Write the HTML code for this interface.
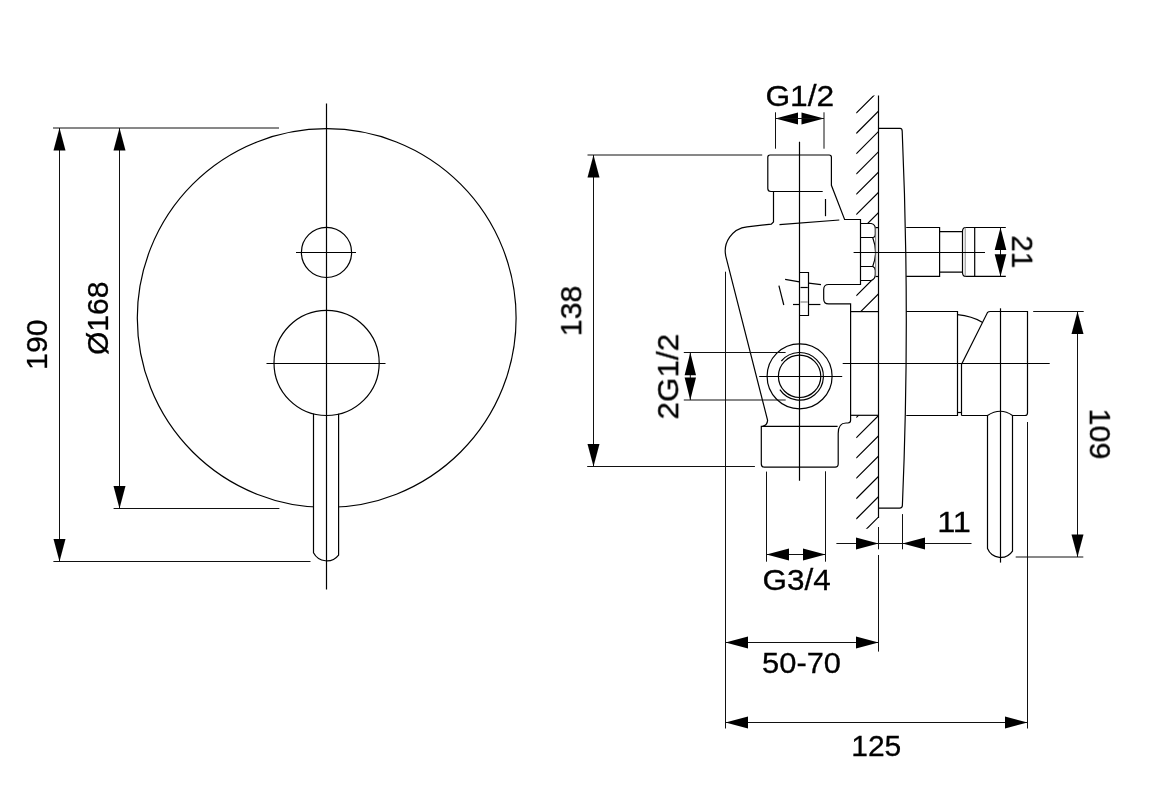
<!DOCTYPE html>
<html><head><meta charset="utf-8"><style>
html,body{margin:0;padding:0;background:#fff;}
svg{display:block;}
text{font-family:"Liberation Sans",sans-serif;font-size:29.8px;fill:#000;stroke:#000;stroke-width:0.3px;}
.t{opacity:0.999;}
</style></head><body>
<svg width="1152" height="794" viewBox="0 0 1152 794">
<rect width="1152" height="794" fill="#fff"/>
<circle cx="326.7" cy="318.1" r="189.4" stroke="#000" stroke-width="1.2" fill="none"/>
<path d="M313.5,413.5 L313.5,552.8 A15,15 0 0 0 338.6,555.05 L338.6,413.5 Z" fill="#fff" stroke="none"/>
<circle cx="326.5" cy="252.4" r="25.1" stroke="#000" stroke-width="1.2" fill="none"/>
<line x1="296" y1="252.5" x2="356" y2="252.5" stroke="#000" stroke-width="1.2" fill="none"/>
<circle cx="326.6" cy="362.9" r="52.6" stroke="#000" stroke-width="1.2" fill="none"/>
<line x1="266.5" y1="363.5" x2="385.5" y2="363.5" stroke="#000" stroke-width="1.2" fill="none"/>
<path d="M313.5,413.8 L313.5,552.8 A15,15 0 0 0 338.6,555.05 L338.6,413.8" stroke="#000" stroke-width="1.2" fill="none"/>
<line x1="326.5" y1="103.6" x2="326.5" y2="589.6" stroke="#000" stroke-width="1.2" fill="none"/>
<line x1="53" y1="128" x2="279" y2="128" stroke="#111" stroke-width="1" fill="none"/>
<line x1="53.4" y1="561.5" x2="310.5" y2="561.5" stroke="#111" stroke-width="1" fill="none"/>
<line x1="113.6" y1="508.5" x2="279.4" y2="508.5" stroke="#111" stroke-width="1" fill="none"/>
<line x1="59.5" y1="128" x2="59.5" y2="561.5" stroke="#111" stroke-width="1" fill="none"/>
<line x1="119.5" y1="128" x2="119.5" y2="508.5" stroke="#111" stroke-width="1" fill="none"/>
<polygon points="59.5,128 53.5,150.5 65.5,150.5" fill="#000" stroke="none"/>
<polygon points="59.5,561.5 53.5,539 65.5,539" fill="#000" stroke="none"/>
<polygon points="119.5,128 113.5,150.5 125.5,150.5" fill="#000" stroke="none"/>
<polygon points="119.5,508.5 113.5,486 125.5,486" fill="#000" stroke="none"/>
<clipPath id="hc"><path d="M856.2,95.6 L878.5,95.6 L878.5,528.8 L856.2,528.8 Z M856.2,219.5 L856.2,284.5 L860.5,284.5 L860.5,280.5 L878.5,280.5 L878.5,223.5 L860.5,223.5 L860.5,219.5 Z M856.2,311.6 L856.2,415.3 L878.5,415.3 L878.5,311.6 Z" clip-rule="evenodd"/></clipPath>
<path d="M856.2,113.2 L916.2,53.2 M856.2,133.49 L916.2,73.49 M856.2,153.78 L916.2,93.78 M856.2,174.07 L916.2,114.07 M856.2,194.36 L916.2,134.36 M856.2,214.65 L916.2,154.65 M856.2,234.94 L916.2,174.94 M856.2,255.23 L916.2,195.23 M856.2,275.52 L916.2,215.52 M856.2,295.81 L916.2,235.81 M856.2,316.1 L916.2,256.1 M856.2,336.39 L916.2,276.39 M856.2,356.68 L916.2,296.68 M856.2,376.97 L916.2,316.97 M856.2,397.26 L916.2,337.26 M856.2,417.55 L916.2,357.55 M856.2,437.84 L916.2,377.84 M856.2,458.13 L916.2,398.13 M856.2,478.42 L916.2,418.42 M856.2,498.71 L916.2,438.71 M856.2,519 L916.2,459 M856.2,539.29 L916.2,479.29 M856.2,559.58 L916.2,499.58" stroke="#000" stroke-width="1.2" fill="none" clip-path="url(#hc)"/>
<line x1="878.5" y1="95.6" x2="878.5" y2="518.1" stroke="#000" stroke-width="1.2" fill="none"/>
<path d="M878.5,128.3 L900.2,128.3 Q902.2,128.3 902.2,131.3 Q910.3,318.3 902.4,505.3 Q902.4,508.1 899.6,508.1 L878.5,508.1" stroke="#000" stroke-width="1.2" fill="none"/>
<path d="M822.7,191.5 L770.8,191.5 Q767.8,191.5 767.8,188.5 L767.8,157.2 Q767.8,155 770,155 L829.2,155 Q831.4,155 831.4,157.2 L831.4,185.3 L844.6,219.5 L860.5,219.5 L860.5,284.5 L828.6,284.5 Q823.7,284.5 823.7,289.5 L823.7,298.9 Q823.7,303.8 828.6,303.8 L850.6,303.8 L850.6,420.3 Q850.6,423 847.9,423 L846,423" stroke="#000" stroke-width="1.2" fill="none"/>
<path d="M846,423 Q838.2,423 838.2,433.5 L838.2,464 Q838.2,467.1 835.1,467.1 L764.3,467.1 Q761.3,467.1 761.3,464 L761.3,426.4 L837.6,426.4" stroke="#000" stroke-width="1.2" fill="none"/>
<path d="M773.5,191.5 L773.5,221.9 L771.25,224.2 L747.07,226.78 A24.4,24.4 0 0 0 726.02,257.06 L767.6,420.4 Q767.3,425.4 762.5,426.4" stroke="#000" stroke-width="1.2" fill="none"/>
<line x1="779.5" y1="224.6" x2="839.3" y2="220" stroke="#000" stroke-width="1.2" fill="none"/>
<line x1="825.5" y1="199" x2="825.5" y2="216.2" stroke="#000" stroke-width="1.2" fill="none"/>
<path d="M860.5,223.5 L871.2,223.5 Q875.3,224.5 875.3,228.6 L875.3,233.7 Q875.3,237.5 872.7,237.5 L860.5,237.5" stroke="#000" stroke-width="1.2" fill="none"/>
<path d="M872.7,237.5 Q878.4,252.3 872.7,266.5 L860.5,266.5" stroke="#000" stroke-width="1.2" fill="none"/>
<path d="M872.7,266.5 Q875.3,267.5 875.3,270.5 L875.3,274.5 Q875.3,279 871.2,280.5 L860.5,280.5" stroke="#000" stroke-width="1.2" fill="none"/>
<line x1="875.7" y1="227.6" x2="875.7" y2="276.5" stroke="#777" stroke-width="1"/>
<line x1="875.7" y1="227.6" x2="878.5" y2="227.6" stroke="#000" stroke-width="1.2" fill="none"/>
<line x1="875.7" y1="276.5" x2="878.5" y2="276.5" stroke="#000" stroke-width="1.2" fill="none"/>
<line x1="850.6" y1="311.6" x2="878.5" y2="311.6" stroke="#000" stroke-width="1.2" fill="none"/>
<line x1="850.6" y1="415.3" x2="878.5" y2="415.3" stroke="#000" stroke-width="1.2" fill="none"/>
<path d="M799.5,272.5 L808.5,272.5 L808.5,315.5 L799.5,315.5" stroke="#000" stroke-width="1.2" fill="none"/>
<line x1="800.5" y1="287.5" x2="807.8" y2="287.5" stroke="#000" stroke-width="1.2" fill="none"/>
<line x1="800.5" y1="302" x2="807.8" y2="302" stroke="#888" stroke-width="1.2"/>
<line x1="785.1" y1="279.3" x2="799.5" y2="281.8" stroke="#000" stroke-width="1.2" fill="none"/>
<line x1="808.6" y1="283.1" x2="821" y2="284.6" stroke="#000" stroke-width="1.2" fill="none"/>
<line x1="793" y1="304.5" x2="799.5" y2="304.5" stroke="#000" stroke-width="1.2" fill="none"/>
<line x1="808.6" y1="304.5" x2="820.4" y2="304.5" stroke="#000" stroke-width="1.2" fill="none"/>
<line x1="778.9" y1="285.7" x2="783.8" y2="305" stroke="#000" stroke-width="1.2" fill="none"/>
<line x1="799.5" y1="141.8" x2="799.5" y2="480.7" stroke="#000" stroke-width="1.2" fill="none"/>
<circle cx="799.6" cy="376.3" r="32.5" stroke="#000" stroke-width="1.2" fill="none"/>
<circle cx="799.6" cy="376.3" r="21.2" stroke="#000" stroke-width="1.2" fill="none"/>
<path d="M781.37,361 A23.8,23.8 0 1 1 779.87,389.61" stroke="#000" stroke-width="1.2" fill="none"/>
<line x1="759.2" y1="376.5" x2="842.2" y2="376.5" stroke="#000" stroke-width="1.2" fill="none"/>
<path d="M906.2,227.5 L939.6,227.5 L939.6,276.4 L906.2,276.4" stroke="#000" stroke-width="1.2" fill="none"/>
<path d="M939.6,231.7 L962.5,231.7 M939.6,272.2 L962.5,272.2" stroke="#000" stroke-width="1.2" fill="none"/>
<path d="M962.5,231.7 Q962.5,227.5 965.5,227.5 L1005.8,227.5 M962.5,272.2 Q962.5,276.4 965.5,276.4 L1005.8,276.4 M962.5,231.7 L962.5,272.2" stroke="#000" stroke-width="1.2" fill="none"/>
<line x1="965.2" y1="227.5" x2="965.2" y2="276.4" stroke="#888" stroke-width="1"/>
<line x1="974.7" y1="227.5" x2="974.7" y2="276.4" stroke="#000" stroke-width="1.2" fill="none"/>
<line x1="853.6" y1="252.5" x2="985" y2="252.5" stroke="#000" stroke-width="1.2" fill="none"/>
<line x1="1000.5" y1="227.5" x2="1000.5" y2="276.5" stroke="#111" stroke-width="1" fill="none"/>
<polygon points="1000.5,227.5 994.7,250 1006.3,250" fill="#000" stroke="none"/>
<polygon points="1000.5,276.5 994.7,254.2 1006.3,254.2" fill="#000" stroke="none"/>
<path d="M906.3,311.5 L957.5,311.5 L957.5,415.5 L906.3,415.5" stroke="#000" stroke-width="1.2" fill="none"/>
<line x1="957.5" y1="412.5" x2="961.5" y2="412.5" stroke="#000" stroke-width="1.2" fill="none"/>
<path d="M961.5,415.5 L961.5,364.5 L987.6,312.3 Q988.4,311.5 990.4,311.5 L1027.5,311.5 L1027.5,413 Q1027.5,415.5 1025,415.5 L1012.5,415.5 Q1000.4,407 987.5,415.5 L961.5,415.5" stroke="#000" stroke-width="1.2" fill="none"/>
<path d="M957.5,314.6 Q972,316 982.2,322.2" stroke="#000" stroke-width="1.2" fill="none"/>
<path d="M987.5,415.5 L987.5,548.6 A14.25,14.25 0 0 0 1012.5,551.1 L1012.5,415.5" stroke="#000" stroke-width="1.2" fill="none"/>
<line x1="1000.5" y1="308.3" x2="1000.5" y2="562.6" stroke="#000" stroke-width="1.2" fill="none"/>
<line x1="842.7" y1="363.5" x2="1049.7" y2="363.5" stroke="#000" stroke-width="1.2" fill="none"/>
<line x1="1033.2" y1="311.5" x2="1083.7" y2="311.5" stroke="#111" stroke-width="1" fill="none"/>
<line x1="1015.7" y1="557" x2="1083.3" y2="557" stroke="#111" stroke-width="1" fill="none"/>
<line x1="1077.5" y1="311.5" x2="1077.5" y2="557" stroke="#111" stroke-width="1" fill="none"/>
<polygon points="1077.5,311.5 1071.5,334 1083.5,334" fill="#000" stroke="none"/>
<polygon points="1077.5,557 1071.5,534.5 1083.5,534.5" fill="#000" stroke="none"/>
<line x1="725.5" y1="271.7" x2="725.5" y2="728.5" stroke="#111" stroke-width="1" fill="none"/>
<line x1="1027.5" y1="422" x2="1027.5" y2="728.5" stroke="#111" stroke-width="1" fill="none"/>
<line x1="725.5" y1="722.5" x2="1027.5" y2="722.5" stroke="#111" stroke-width="1" fill="none"/>
<polygon points="725.5,722.5 748,716.5 748,728.5" fill="#000" stroke="none"/>
<polygon points="1027.5,722.5 1005,716.5 1005,728.5" fill="#000" stroke="none"/>
<line x1="878.5" y1="555" x2="878.5" y2="651.6" stroke="#111" stroke-width="1" fill="none"/>
<line x1="725.5" y1="642.5" x2="878.5" y2="642.5" stroke="#111" stroke-width="1" fill="none"/>
<polygon points="725.5,642.5 748,636.5 748,648.5" fill="#000" stroke="none"/>
<polygon points="878.5,642.5 856,636.5 856,648.5" fill="#000" stroke="none"/>
<line x1="878.5" y1="527" x2="878.5" y2="549.3" stroke="#111" stroke-width="1" fill="none"/>
<line x1="902.5" y1="514.1" x2="902.5" y2="549.3" stroke="#111" stroke-width="1" fill="none"/>
<line x1="836.4" y1="543.5" x2="971.5" y2="543.5" stroke="#111" stroke-width="1" fill="none"/>
<polygon points="878.5,543.5 856,537.5 856,549.5" fill="#000" stroke="none"/>
<polygon points="902.5,543.5 925,537.5 925,549.5" fill="#000" stroke="none"/>
<line x1="766.5" y1="471.6" x2="766.5" y2="561.7" stroke="#111" stroke-width="1" fill="none"/>
<line x1="825.5" y1="471.3" x2="825.5" y2="561.7" stroke="#111" stroke-width="1" fill="none"/>
<line x1="766.5" y1="554.5" x2="825.5" y2="554.5" stroke="#111" stroke-width="1" fill="none"/>
<polygon points="766.5,554.5 789,548.5 789,560.5" fill="#000" stroke="none"/>
<polygon points="825.5,554.5 803,548.5 803,560.5" fill="#000" stroke="none"/>
<line x1="775.5" y1="112.3" x2="775.5" y2="148.7" stroke="#111" stroke-width="1" fill="none"/>
<line x1="824" y1="112.3" x2="824" y2="148.7" stroke="#111" stroke-width="1" fill="none"/>
<polygon points="775.5,118.5 798,112.5 798,124.5" fill="#000" stroke="none"/>
<polygon points="824,118.5 801.5,112.5 801.5,124.5" fill="#000" stroke="none"/>
<line x1="775.5" y1="118.5" x2="824" y2="118.5" stroke="#111" stroke-width="1" fill="none"/>
<line x1="587.5" y1="155" x2="762.2" y2="155" stroke="#111" stroke-width="1" fill="none"/>
<line x1="587.2" y1="466.5" x2="754.9" y2="466.5" stroke="#111" stroke-width="1" fill="none"/>
<line x1="593.5" y1="155" x2="593.5" y2="466.5" stroke="#111" stroke-width="1" fill="none"/>
<polygon points="593.5,155 587.5,177.5 599.5,177.5" fill="#000" stroke="none"/>
<polygon points="593.5,466.5 587.5,444 599.5,444" fill="#000" stroke="none"/>
<line x1="683.8" y1="352.5" x2="785.6" y2="352.5" stroke="#111" stroke-width="1" fill="none"/>
<line x1="683.8" y1="400" x2="785.7" y2="400" stroke="#111" stroke-width="1" fill="none"/>
<line x1="690.3" y1="352.5" x2="690.3" y2="400" stroke="#111" stroke-width="1" fill="none"/>
<polygon points="690.3,352.5 684.6,375.2 696,375.2" fill="#000" stroke="none"/>
<polygon points="690.3,400 684.6,377.4 696,377.4" fill="#000" stroke="none"/>
<g class="t">
<g transform="translate(36.6,344.05) rotate(-90) translate(-25.84,10.25)"><text transform="scale(1.0184,1)" x="0" y="0">190</text></g>
<g transform="translate(97.55,318.4) rotate(-90) translate(-36.66,10.25)"><text transform="scale(1.0078,1)" x="0" y="0">Ø168</text></g>
<g transform="translate(799.75,95.75) rotate(0) translate(-34.35,10.62)"><text transform="scale(1.0650,1)" x="0" y="0">G1/2</text></g>
<g transform="translate(571,310.45) rotate(-90) translate(-25.84,10.25)"><text transform="scale(1.0184,1)" x="0" y="0">138</text></g>
<g transform="translate(667.55,376.5) rotate(-90) translate(-42.99,10.62)"><text transform="scale(1.0581,1)" x="0" y="0">2G1/2</text></g>
<g transform="translate(1022.6,251.85) rotate(90) translate(-16.54,10.38)"><text transform="scale(0.9950,1)" x="0" y="0">21</text></g>
<g transform="translate(1100.1,434.4) rotate(90) translate(-25.91,10.25)"><text transform="scale(1.0261,1)" x="0" y="0">109</text></g>
<g transform="translate(796.9,579.45) rotate(0) translate(-34.49,10.62)"><text transform="scale(1.0570,1)" x="0" y="0">G3/4</text></g>
<g transform="translate(954.5,521.5) rotate(0) translate(-17.36,10.25)"><text transform="scale(1.0936,1)" x="0" y="0">11</text></g>
<g transform="translate(801.6,662.55) rotate(0) translate(-39.49,10.25)"><text transform="scale(1.0359,1)" x="0" y="0">50-70</text></g>
<g transform="translate(876.8,746) rotate(0) translate(-25.57,10.25)"><text transform="scale(1.0076,1)" x="0" y="0">125</text></g>
</g>
</svg></body></html>
